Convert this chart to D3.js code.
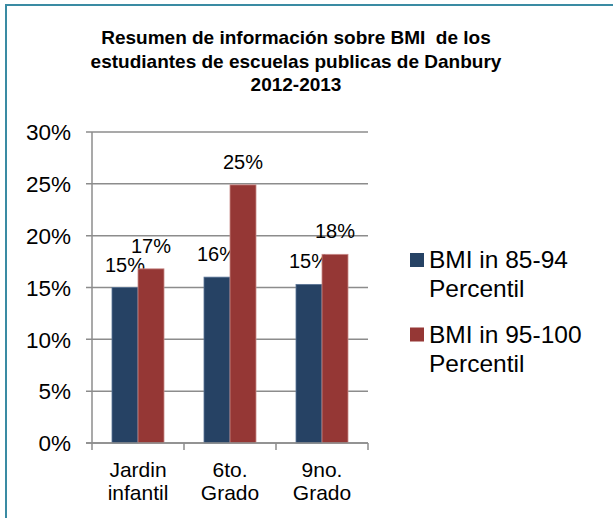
<!DOCTYPE html>
<html><head><meta charset="utf-8">
<script src="https://cdn.jsdelivr.net/npm/d3@7"></script>
<style>body{margin:0;background:#fff}svg{display:block}text{font-family:"Liberation Sans",Arial,sans-serif;fill:#000}</style>
</head><body><svg id="c" width="613" height="518"></svg>
<script>
const titleLines = ["Resumen de información sobre BMI  de los", "estudiantes de escuelas publicas de Danbury", "2012-2013"];
const categories = [["Jardin","infantil"],["6to.","Grado"],["9no.","Grado"]];
const seriesNames = [["BMI in 85-94","Percentil"],["BMI in 95-100","Percentil"]];
const series1 = [0.150, 0.160, 0.153];
const series2 = [0.168, 0.249, 0.182];
const yTicks = [0, 0.05, 0.10, 0.15, 0.20, 0.25, 0.30];
const colors = ["#264264", "#953735"];
const strokes = ["#5a7496", "#c98a88"];

const svg = d3.select("#c");
svg.append("rect").attr("x",6).attr("y",5).attr("width",800).attr("height",800)
  .attr("fill","none").attr("stroke","#3a8ba3").attr("stroke-width",2);

const tl = [44, 67.5, 91];
titleLines.forEach((t,i)=>svg.append("text").attr("x",296).attr("y",tl[i])
  .attr("text-anchor","middle").attr("font-weight","bold").attr("font-size",19)
  .attr("xml:space","preserve").style("white-space","pre").text(t));

const catKeys = categories.map(c=>c.join(" "));
const x = d3.scaleBand().domain(catKeys).range([92,368]);
const xs = d3.scaleBand().domain([0,1]).range([20,72]);
const y = d3.scaleLinear().domain([0,0.30]).range([443,132]);

// gridlines
svg.append("g").selectAll("line").data(yTicks).join("line")
  .attr("x1",86).attr("x2",368).attr("y1",d=>y(d)).attr("y2",d=>y(d))
  .attr("stroke","#8c8c8c").attr("stroke-width",1.5);
// y axis line
svg.append("line").attr("x1",92).attr("x2",92).attr("y1",y(0.30)).attr("y2",y(0))
  .attr("stroke","#8c8c8c").attr("stroke-width",1.5);
// y labels
svg.append("g").selectAll("text").data(yTicks).join("text")
  .attr("x",71).attr("y",d=>y(d)+8.3).attr("text-anchor","end").attr("font-size",22.5)
  .text(d=>d3.format(".0%")(d));
// x ticks
const bounds = catKeys.map(k=>x(k)).concat([x.range()[1]]);
svg.append("g").selectAll("line").data(bounds).join("line")
  .attr("x1",d=>d).attr("x2",d=>d).attr("y1",y(0)).attr("y2",y(0)+7)
  .attr("stroke","#8c8c8c").attr("stroke-width",1.5);

const data = [series1, series2];
data.forEach((vals,si)=>{
  const g = svg.append("g");
  g.selectAll("rect").data(vals).join("rect")
    .attr("x",(d,i)=>x(catKeys[i])+xs(si)).attr("width",xs.bandwidth())
    .attr("y",d=>y(d)).attr("height",d=>y(0)-y(d))
    .attr("fill",colors[si]).attr("stroke",strokes[si]).attr("stroke-width",0.8);
  g.selectAll("text").data(vals).join("text")
    .attr("x",(d,i)=>x(catKeys[i])+xs(si)+xs.bandwidth()/2).attr("y",d=>y(d)-16)
    .attr("text-anchor","middle").attr("font-size",20)
    .text(d=>d3.format(".0%")(d));
});
// x axis baseline above bars
svg.append("line").attr("x1",86).attr("x2",368).attr("y1",y(0)).attr("y2",y(0))
  .attr("stroke","#8c8c8c").attr("stroke-width",1.5);

// category labels
categories.forEach((c,i)=>{
  c.forEach((t,j)=>svg.append("text").attr("x",x(catKeys[i])+x.bandwidth()/2)
    .attr("y",476.5+j*23).attr("text-anchor","middle").attr("font-size",21).text(t));
});

// legend
seriesNames.forEach((n,i)=>{
  const yy = 253 + i*74.5;
  svg.append("rect").attr("x",410).attr("y",yy).attr("width",14).attr("height",14).attr("fill",colors[i]);
  n.forEach((t,j)=>svg.append("text").attr("x",429).attr("y",yy+15+j*29)
    .attr("font-size",24.5).text(t));
});
</script></body></html>
